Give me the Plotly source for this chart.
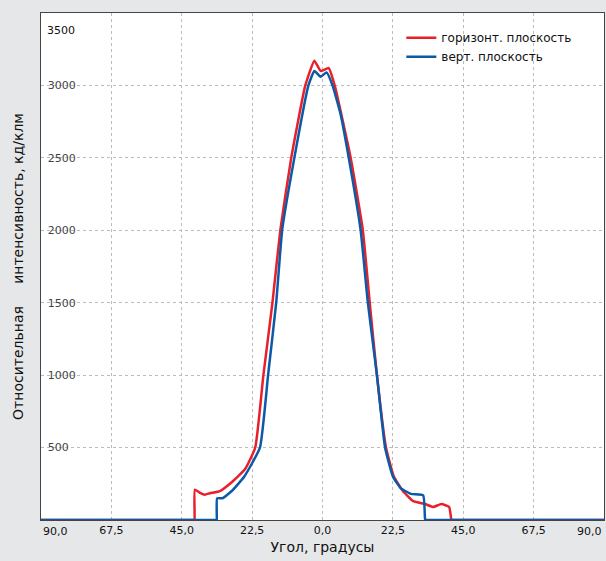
import plotly.graph_objects as go

# горизонтальная плоскость
hor_x = [-90, -41, -40.9, -40.8, -39, -37.6, -36, -32.8, -29.6, -24.8, -21.5, -18.9, -16, -13.5, -10, -5.5,
         -2.6, -0.6, 2, 3.9, 9, 12.9, 15.1, 17.4, 20.3, 22.8, 25.7, 29, 32.8, 35.4, 38, 40.5, 41.2, 41.3, 90]
hor_y = [0, 0, 0, 210, 185, 175, 185, 200, 250, 350, 500, 1000, 1500, 2000, 2500, 3000,
         3170, 3100, 3120, 3000, 2500, 2000, 1500, 1000, 500, 300, 200, 130, 110, 90, 110, 90, 0, 0, 0]

# вертикальная плоскость
ver_x = [-90, -33.9, -33.8, -33.7, -32, -29, -25, -20, -17.4, -14.8, -12.9, -9, -4.5, -2.6, -0.6, 1.3,
         3.2, 5.8, 8.4, 12.2, 14.5, 17.4, 20, 22.5, 25, 28.3, 32.2, 32.8, 32.9, 90]
ver_y = [0, 0, 0, 150, 150, 200, 300, 500, 1000, 1500, 2000, 2500, 3000, 3100, 3060, 3090,
         3000, 2800, 2500, 2000, 1500, 1000, 500, 300, 220, 180, 170, 0, 0, 0]

tick_vals = [-90, -67.5, -45, -22.5, 0, 22.5, 45, 67.5, 90]
tick_text = ["90,0", "67,5", "45,0", "22,5", "0,0", "22,5", "45,0", "67,5", "90,0"]

fig = go.Figure()
fig.add_trace(go.Scatter(x=hor_x, y=hor_y, mode="lines", name="горизонт. плоскость",
                         line=dict(color="#e8202a", width=2.5, shape="spline", smoothing=0.4)))
fig.add_trace(go.Scatter(x=ver_x, y=ver_y, mode="lines", name="верт. плоскость",
                         line=dict(color="#0a5aa8", width=2.5, shape="spline", smoothing=0.4)))

# edge labels that plotly would otherwise hide
for v, anchor in [(-90, "left"), (90, "right")]:
    fig.add_annotation(x=v, y=0, xref="x", yref="paper", text=tick_text[0], showarrow=False,
                       xanchor=anchor, yanchor="top", yshift=-3, font=dict(size=11, color="#111"))
fig.add_annotation(x=0, y=3500, xref="paper", yref="y", text="3500", showarrow=False,
                   xanchor="left", yanchor="top", xshift=4, yshift=-9, font=dict(size=11, color="#111"))

fig.update_layout(
    width=606, height=561,
    margin=dict(l=41, r=2, t=13, b=41),
    paper_bgcolor="#e6e7e8", plot_bgcolor="white",
    font=dict(family="DejaVu Sans", size=11, color="#111"),
    legend=dict(x=0.64, y=0.98, xanchor="left", yanchor="top", bgcolor="rgba(0,0,0,0)",
                font=dict(size=12)),
)
fig.update_xaxes(range=[-90, 90], tickvals=tick_vals[1:-1], ticktext=tick_text[1:-1],
                 showgrid=True, gridcolor="#bbbbbb", griddash="dot", automargin=False,
                 showline=True, linecolor="#444", mirror=True, zeroline=False,
                 title=dict(text="Угол, градусы", font=dict(size=14), standoff=5))
fig.update_yaxes(range=[0, 3500], tickvals=[500, 1000, 1500, 2000, 2500, 3000],
                 ticklabelposition="inside", ticklabelstandoff=6, automargin=False,
                 showgrid=True, gridcolor="#bbbbbb", griddash="dot",
                 showline=True, linecolor="#444", mirror=True, zeroline=False,
                 title=dict(text="Относительная &nbsp;&nbsp;&nbsp; интенсивность, кд/клм",
                            font=dict(size=14), standoff=20))

fig.write_html("out.html", config={"displayModeBar": False},
               post_script="document.body.style.margin='0';")
